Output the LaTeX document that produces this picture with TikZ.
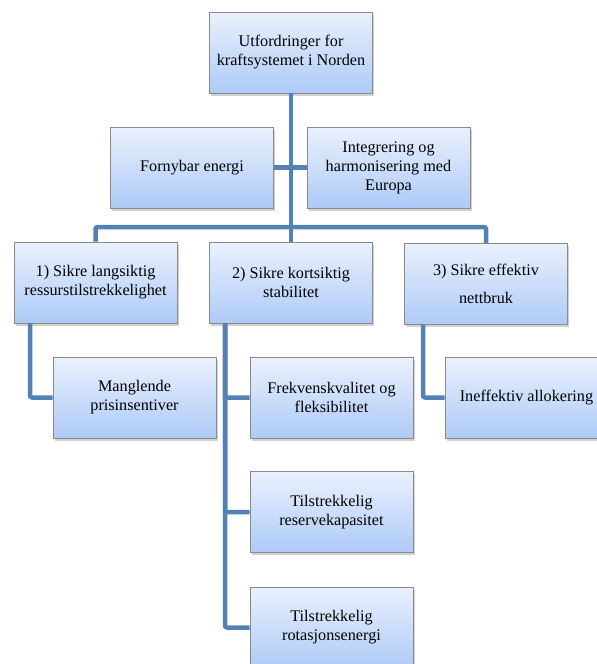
\documentclass[tikz,border=0pt]{standalone}
\usepackage{fontspec}
\setmainfont{Liberation Serif}
\usetikzlibrary{shadows}
\definecolor{conn}{HTML}{5282B5}
\definecolor{boxtop}{HTML}{EAF1FD}
\definecolor{boxbot}{HTML}{AECAF7}
\definecolor{boxline}{HTML}{8A8A8A}
\tikzset{
  box/.style={rectangle, draw=boxline, line width=0.8pt,
    top color=boxtop, bottom color=boxbot,
    minimum width=163pt, minimum height=81pt, inner sep=1pt,
    align=center, font=\fontsize{16.2}{19}\selectfont,
    drop shadow={shadow xshift=1.5pt, shadow yshift=-2.5pt, opacity=0.3, fill=black!60}},
  conline/.style={draw=conn, line width=4.5pt, rounded corners=2pt, line join=round}
}
\begin{document}
\begin{tikzpicture}[x=1pt,y=-1pt]
\useasboundingbox (0,0) rectangle (597,664);
\clip (0,0) rectangle (597,664);
\node[box] (top) at (291,52.5) {Utfordringer for\\kraftsystemet i Norden};
\node[box] (forny) at (192,167.5) {Fornybar energi};
\node[box] (integ) at (388.5,167.5) {Integrering og\\harmonisering med\\Europa};
\node[box] (b1) at (95.5,282.5) {1) Sikre langsiktig\\ressurstilstrekkelighet};
\node[box] (b2) at (291,282.5) {2) Sikre kortsiktig\\stabilitet};
\node[box, font=\fontsize{16.2}{28}\selectfont] (b3) at (486,284) {3) Sikre effektiv\\nettbruk};
\node[box] (mang) at (134.5,397.5) {Manglende\\prisinsentiver};
\node[box] (frek) at (331.5,397.5) {Frekvenskvalitet og\\fleksibilitet};
\node[box] (ineff) at (526.5,397.5) {Ineffektiv allokering};
\node[box] (res) at (331.5,512) {Tilstrekkelig\\reservekapasitet};
\node[box] (rot) at (331.5,627.5) {Tilstrekkelig\\rotasjonsenergi};
\coordinate (bus) at (291,227);
\draw[conline] (top.south) -- (b2.north);
\draw[conline] (forny.east) -- (integ.west);
\draw[conline] (b1.north) |- (bus) -| (b3.north);
\draw[conline] ([xshift=-65.5pt]b1.south) |- (mang.west);
\draw[conline] ([xshift=-66pt]b2.south) |- (rot.west);
\draw[conline] ([xshift=-66pt]b2.south) |- (frek.west);
\draw[conline] ([xshift=-66pt]b2.south) |- (res.west);
\draw[conline] ([xshift=-63pt]b3.south) |- (ineff.west);
\end{tikzpicture}
\end{document}
